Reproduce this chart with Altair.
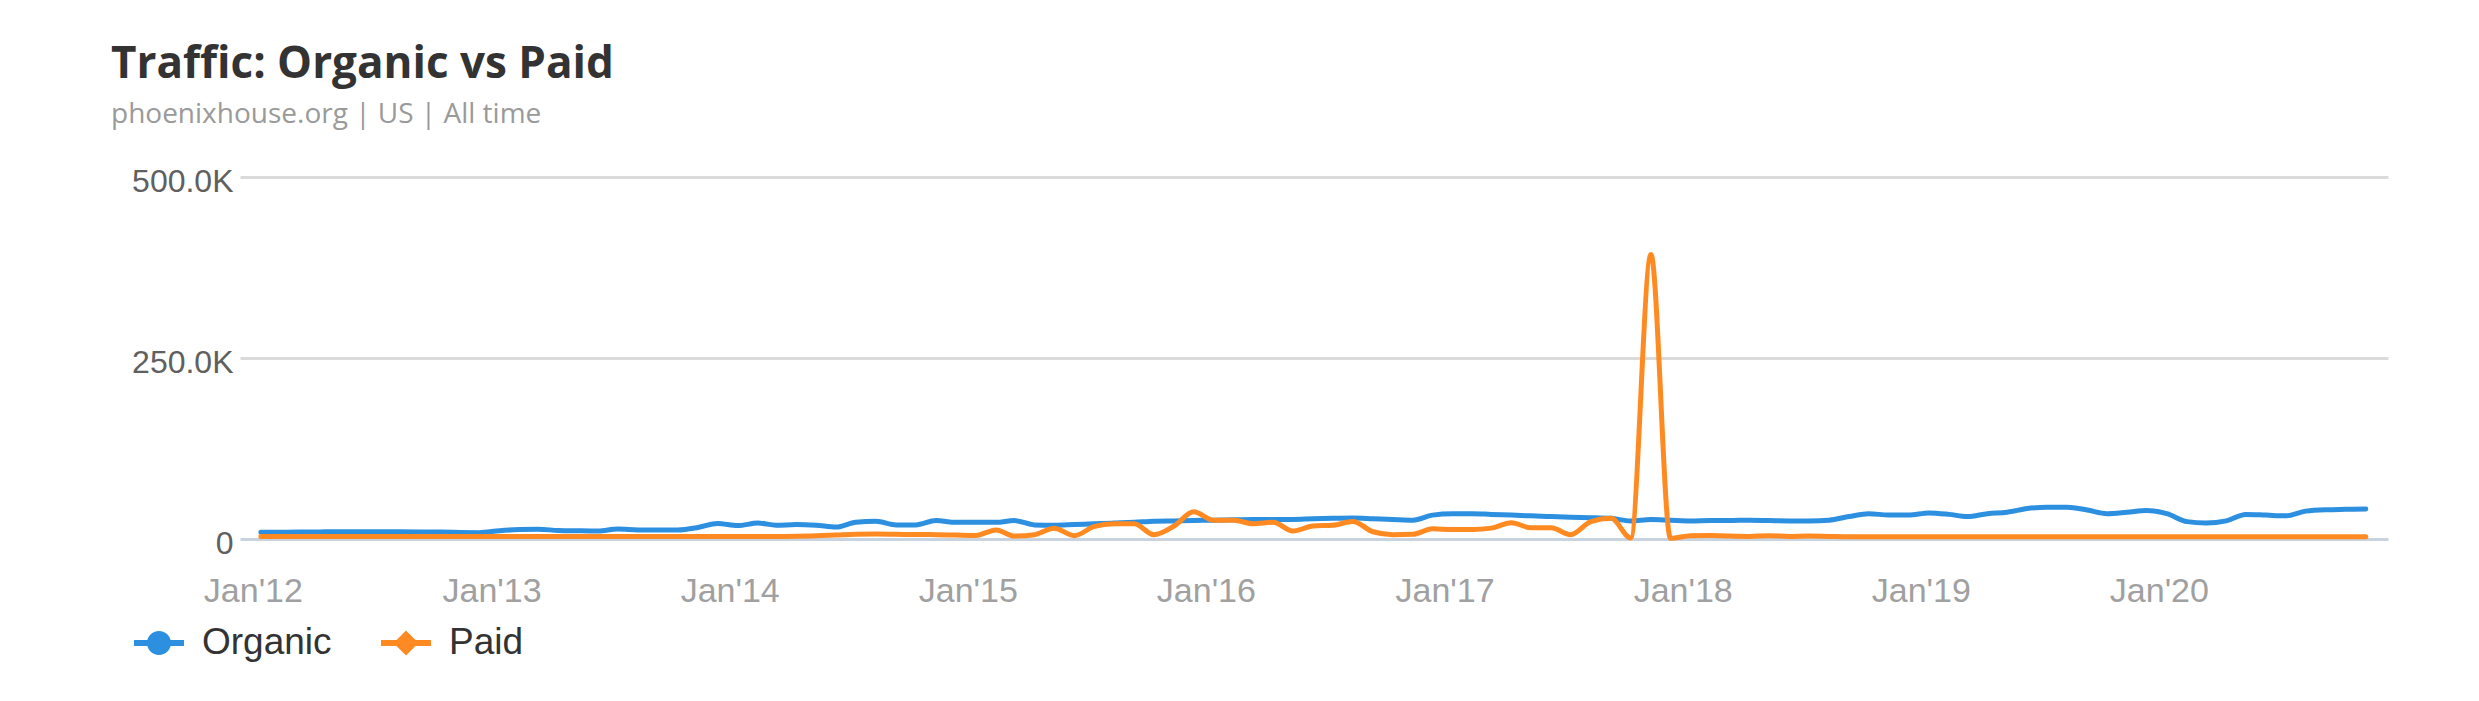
import altair as alt
import pandas as pd

# ---------------- data (values in thousands of visits) ----------------
series_names = ["Organic", "Paid"]
series_colors = ["#2d8fe0", "#ff8a22"]

organic_k = [
    9.3, 9.3, 9.5, 9.8, 10, 10, 10, 10, 9.8, 9.5, 9, 8.8,            # 2012
    11.5, 13, 13.5, 11.8, 11.3, 11, 13.8, 12.5, 12.3, 12.5, 16, 21.5,  # 2013
    18.5, 22, 19, 20, 19, 16.5, 23, 24.5, 19.5, 19.5, 25.5, 23,     # 2014
    23, 23, 25.5, 19.5, 19, 20, 21, 22, 23, 24.5, 25, 25.5,         # 2015
    26, 26.5, 27, 27, 27, 28, 28.5, 29, 28, 27, 26, 33,             # 2016
    35, 35, 34, 33, 32, 31, 30, 29.5, 28.5, 25, 27, 26,             # 2017
    25, 25.5, 25.5, 26, 25.5, 25, 25, 26, 31, 35, 33, 33,           # 2018
    36, 34, 31, 35, 37, 42, 44, 44, 40, 35, 37, 39.5,               # 2019
    35, 24, 22, 25, 34, 33, 32, 38.5, 40.5, 41, 41.4,               # 2020
]

paid_k = [
    3.5, 3.5, 3.5, 3.5, 3.5, 3.5, 3.5, 3.5, 3.5, 3.5, 3.5, 3.5,      # 2012
    3.5, 3.5, 3.5, 3.5, 3.5, 3.5, 3.5, 3.5, 3.5, 3.5, 3.5, 3.5,      # 2013
    3.5, 3.5, 3.5, 3.8, 4.5, 5.5, 6.5, 6.8, 6.5, 6.2, 6, 5.5,        # 2014
    5, 12.5, 4, 6, 15, 4.5, 17, 21, 21, 6, 18, 37.5,                 # 2015
    26, 26, 21, 23, 11, 18, 19, 24, 10, 6, 6.5, 14,                  # 2016
    13, 13, 15, 22.5, 15.5, 15.5, 6, 24, 28.5, 1.5, 393, 1,          # 2017
    4.5, 5, 4, 3.5, 4.5, 3.5, 4, 3.5, 3, 3, 3, 3,                    # 2018
    3, 3, 3, 3, 3, 3, 3, 3, 3, 3, 3, 3,                              # 2019
    3, 3, 3, 3, 3, 3, 3, 3, 3, 3, 3,                                 # 2020
]

months = pd.date_range("2012-01-01", periods=len(organic_k), freq="MS").strftime("%Y-%m-%d").tolist()
y_ticks = [0, 250000, 500000]
x_tick_years = list(range(2012, 2021))

rows = []
for name, vals in zip(series_names, [organic_k, paid_k]):
    for d, v in zip(months, vals):
        rows.append({"date": d, "series": name, "traffic": v * 1000})
df = pd.DataFrame(rows)

# ---------------- encodings ----------------
x_enc = alt.X(
    "date:T",
    title=None,
    scale=alt.Scale(
        type="utc",
        domain=[
            alt.DateTime(year=2011, month=11, date=30, utc=True),
            alt.DateTime(year=2020, month=12, date=5, utc=True),
        ],
    ),
    axis=alt.Axis(
        values=[alt.DateTime(year=y, month=1, date=1, utc=True) for y in x_tick_years],
        labelExpr="utcFormat(datum.value, \"%b'%y\")",
        labelFont="Liberation Sans",
        labelFontSize=34,
        labelColor="#a0a0a0",
        labelPadding=35,
        labelOffset=-8,
        domain=False,
        ticks=False,
        grid=False,
    ),
)

y_enc = alt.Y(
    "traffic:Q",
    title=None,
    scale=alt.Scale(domain=[0, 500000], nice=False, zero=True),
    axis=alt.Axis(
        values=y_ticks,
        labelExpr="datum.value == 0 ? '0' : format(datum.value / 1000, '.1f') + 'K'",
        labelFont="Liberation Sans",
        labelFontSize=32,
        labelColor="#606060",
        labelPadding=7,
        labelOffset=4,
        labelBaseline="middle",
        domain=False,
        ticks=False,
        grid=True,
        gridWidth=3,
        gridColor={"condition": {"test": "datum.value === 0", "value": "#c9d3e0"}, "value": "#dadada"},
    ),
)

base = alt.Chart(df)

line_style = dict(strokeWidth=5, interpolate="monotone", strokeCap="round", strokeJoin="round")

organic_line = (
    base.transform_filter(alt.datum.series == series_names[0])
    .mark_line(color=series_colors[0], **line_style)
    .encode(x=x_enc, y=y_enc)
)
paid_line = (
    base.transform_filter(alt.datum.series == series_names[1])
    .mark_line(color=series_colors[1], **line_style)
    .encode(x=x_enc, y=y_enc)
)

circle_path = ("M-1,-0.12L1,-0.12L1,0.12L-1,0.12Z "
               "M-0.48,0A0.48,0.48 0 1,1 0.48,0A0.48,0.48 0 1,1 -0.48,0Z")
diamond_path = ("M-1,-0.12L1,-0.12L1,0.12L-1,0.12Z "
                "M0,-0.5L0.5,0L0,0.5L-0.5,0Z")

legend = alt.Legend(
    orient="none",
    legendX=-106,
    legendY=441,
    direction="horizontal",
    title=None,
    symbolSize=2500,
    symbolOpacity=1,
    symbolStrokeWidth=0,
    labelFont="Liberation Sans",
    labelFontSize=37,
    labelColor="#333333",
    labelOffset=18,
    columnPadding=49,
    padding=0,
)

legend_points = base.mark_point(filled=True, opacity=0, size=1).encode(
    x=x_enc,
    y=y_enc,
    color=alt.Color("series:N", scale=alt.Scale(domain=series_names, range=series_colors), legend=legend),
    shape=alt.Shape("series:N", scale=alt.Scale(domain=series_names, range=[circle_path, diamond_path]), legend=legend),
)

chart = (
    alt.layer(organic_line, paid_line, legend_points)
    .properties(
        width=2148,
        height=362,
        autosize=alt.AutoSizeParams(type="none"),
        padding={"left": 232, "top": 169, "right": 83, "bottom": 150},
        title=alt.TitleParams(
            text="Traffic: Organic vs Paid",
            subtitle="phoenixhouse.org | US | All time",
            anchor="start",
            frame="group",
            dx=-129,
            offset=36,
            font="Open Sans",
            fontSize=44,
            fontWeight="bold",
            color="#333333",
            subtitleFont="Open Sans",
            subtitleFontSize=28,
            subtitleColor="#9a9a9a",
            subtitleFontWeight="normal",
            subtitlePadding=14,
        ),
    )
    .configure(background="white")
    .configure_view(strokeWidth=0)
)

chart.save("out.html", embed_options={"renderer": "svg", "actions": False})
